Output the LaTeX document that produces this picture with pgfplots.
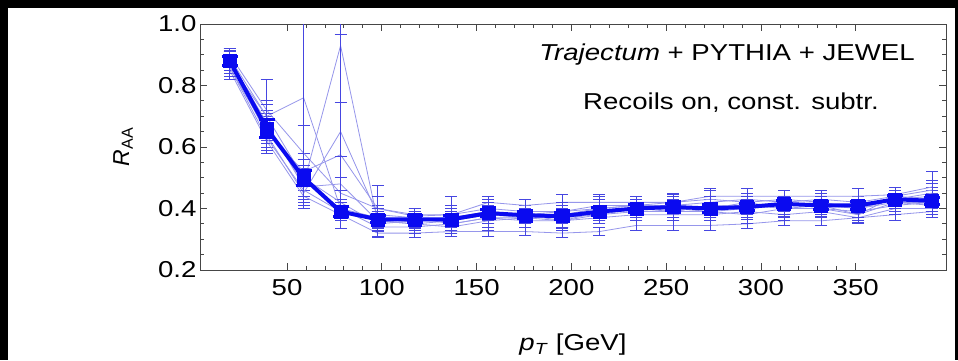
\documentclass[border=0pt]{standalone}
\usepackage{fontspec}
\setmainfont[FakeStretch=1.2]{Liberation Sans}
\setsansfont[FakeStretch=1.2]{Liberation Sans}
\newfontfamily\plainsans{Liberation Sans}
\usepackage{pgfplots}
\usepackage{pgfplotstable}
\pgfplotsset{compat=1.18}
\definecolor{mainblue}{RGB}{10,10,240}
\definecolor{thinline}{RGB}{150,150,235}
\definecolor{thinerr}{RGB}{70,70,225}
\definecolor{axgray}{RGB}{70,70,70}
\pgfplotstableread{
x      M     Me    a1   a2   a3   a4    a5    a6    a7   a8   a9   a10  e1   e2   e3    e4   e5    e6    e7   e8   e9    e10
19.75  0.88  0.015 0.87 0.89 0.88 0.86  0.85  0.90  0.88 0.87 0.89 0.86 0.03 0.03 0.03  0.03 0.03  0.02  0.03 0.03 0.025 0.03
39.25  0.66  0.03  0.70 0.67 0.64 0.65  0.62  0.72  0.68 0.66 0.70 0.63 0.05 0.05 0.04  0.05 0.04  0.10  0.06 0.05 0.04  0.04
58.75  0.50  0.025 0.76 0.48 0.45 0.52  0.44  0.58  0.47 0.49 0.50 0.46 0.36 0.05 0.04  0.06 0.04  0.09  0.05 0.05 0.06  0.04
78.25  0.39  0.015 0.40 0.93 0.65 0.575 0.38  0.45  0.48 0.40 0.42 0.39 0.03 0.57 0.315 0.17 0.02  0.05  0.09 0.03 0.04  0.03
97.75  0.365 0.012 0.37 0.36 0.38 0.40  0.32  0.40  0.36 0.34 0.35 0.37 0.03 0.03 0.03  0.04 0.015 0.075 0.03 0.03 0.02  0.03
117.25 0.365 0.012 0.36 0.35 0.37 0.38  0.32  0.375 0.35 0.34 0.36 0.36 0.03 0.02 0.02  0.02 0.015 0.025 0.03 0.02 0.02  0.03
136.75 0.365 0.012 0.37 0.36 0.35 0.38  0.325 0.38  0.34 0.35 0.36 0.37 0.03 0.02 0.02  0.06 0.015 0.03  0.02 0.02 0.03  0.02
156.25 0.385 0.012 0.39 0.38 0.37 0.40  0.325 0.42  0.36 0.37 0.38 0.39 0.03 0.02 0.03  0.03 0.015 0.02  0.03 0.02 0.03  0.03
175.75 0.378 0.012 0.38 0.38 0.37 0.39  0.325 0.41  0.37 0.36 0.37 0.38 0.02 0.02 0.02  0.02 0.012 0.02  0.02 0.02 0.02  0.02
195.25 0.375 0.012 0.36 0.37 0.38 0.39  0.32  0.42  0.36 0.36 0.37 0.39 0.03 0.02 0.02  0.02 0.015 0.025 0.02 0.02 0.03  0.03
214.75 0.39  0.012 0.39 0.38 0.40 0.41  0.325 0.42  0.38 0.37 0.39 0.40 0.03 0.02 0.02  0.03 0.012 0.025 0.02 0.02 0.02  0.03
234.25 0.40  0.012 0.40 0.40 0.41 0.41  0.345 0.42  0.39 0.38 0.40 0.41 0.03 0.02 0.02  0.02 0.015 0.02  0.02 0.02 0.03  0.03
253.75 0.405 0.012 0.41 0.40 0.42 0.41  0.345 0.42  0.39 0.38 0.39 0.39 0.03 0.02 0.03  0.02 0.015 0.025 0.02 0.02 0.03  0.02
273.25 0.40  0.012 0.40 0.39 0.43 0.42  0.345 0.44  0.39 0.38 0.41 0.41 0.03 0.02 0.03  0.02 0.015 0.025 0.02 0.02 0.03  0.03
292.75 0.405 0.012 0.42 0.40 0.42 0.43  0.35  0.44  0.38 0.39 0.41 0.40 0.03 0.02 0.03  0.02 0.015 0.025 0.03 0.02 0.03  0.03
312.25 0.415 0.012 0.43 0.41 0.40 0.42  0.36  0.44  0.40 0.38 0.40 0.41 0.03 0.02 0.03  0.02 0.015 0.02  0.02 0.02 0.03  0.03
331.75 0.41  0.012 0.42 0.42 0.41 0.43  0.36  0.44  0.40 0.39 0.40 0.41 0.02 0.02 0.03  0.02 0.015 0.02  0.02 0.02 0.03  0.03
351.25 0.41  0.012 0.40 0.40 0.38 0.42  0.37  0.44  0.39 0.37 0.38 0.40 0.03 0.03 0.02  0.02 0.015 0.025 0.03 0.02 0.03  0.03
370.75 0.43  0.012 0.43 0.42 0.44 0.44  0.38  0.445 0.41 0.40 0.42 0.43 0.03 0.03 0.03  0.03 0.02  0.025 0.03 0.02 0.03  0.03
390.25 0.425 0.012 0.44 0.41 0.43 0.46  0.39  0.47  0.42 0.40 0.42 0.45 0.03 0.03 0.03  0.03 0.02  0.05  0.03 0.02 0.03  0.03
}\data
\begin{document}
\begin{tikzpicture}[x=1pt,y=1pt]
\useasboundingbox (0,0) rectangle (958,360);
\fill[black] (0,0) rectangle (958,360);
\fill[white] (8,0) rectangle (955,352);
\begin{axis}[
  at={(200pt,90pt)}, anchor=south west,
  width=746pt, height=246pt, scale only axis,
  xmin=4.1, xmax=397.6, ymin=0.2, ymax=1.0,
  xtick={50,100,150,200,250,300,350},
  ytick={0.2,0.4,0.6,0.8,1.0},
  minor x tick num=4, minor y tick num=3,
  tick align=inside,
  major tick length=7pt, minor tick length=4pt,
  axis line style={axgray, line width=0.8pt},
  every tick/.style={axgray, line width=0.8pt},
  /pgf/number format/assume math mode=true,
  tick label style={font=\fontsize{23}{26}\selectfont, black},
  yticklabel style={/pgf/number format/.cd, fixed, fixed zerofill, precision=1},
  xticklabel style={yshift=-6pt},
  xlabel={\textit{p}\textsubscript{\textit{T}} [GeV]},
  ylabel={\plainsans\textit{R}\textsubscript{AA}},
  label style={font=\fontsize{23}{26}\selectfont},
  xlabel style={at={(axis description cs:0.5,0)}, anchor=center, yshift=-75pt},
  ylabel style={at={(axis description cs:0,0.5)}, anchor=center, yshift=77pt},
  clip=true,
]
\pgfplotsinvokeforeach{1,...,10}{
  \addplot[color=thinline, line width=0.8pt, mark=none,
    error bars/.cd, y dir=both, y explicit,
    error bar style={color=thinerr, line width=0.9pt},
    error mark options={rotate=90, color=thinerr, line width=0.9pt, mark size=6pt}]
    table[x=x, y=a#1, y error=e#1] {\data};
}
\addplot[color=mainblue, line width=4pt, mark=square*, mark size=6.5pt,
    mark options={solid, line width=0.5pt},
    error bars/.cd, y dir=both, y explicit,
    error bar style={color=mainblue, line width=3pt},
    error mark options={rotate=90, color=mainblue, line width=3pt, mark size=8pt}]
    table[x=x, y=M, y error=Me] {\data};
\end{axis}
\node[font=\fontsize{23}{26}\selectfont, anchor=center] at (727,305) {\textit{Trajectum} + PYTHIA + JEWEL};
\node[font=\fontsize{23}{26}\selectfont, anchor=center] at (731,257) {Recoils on, const. subtr.};
\end{tikzpicture}
\end{document}
